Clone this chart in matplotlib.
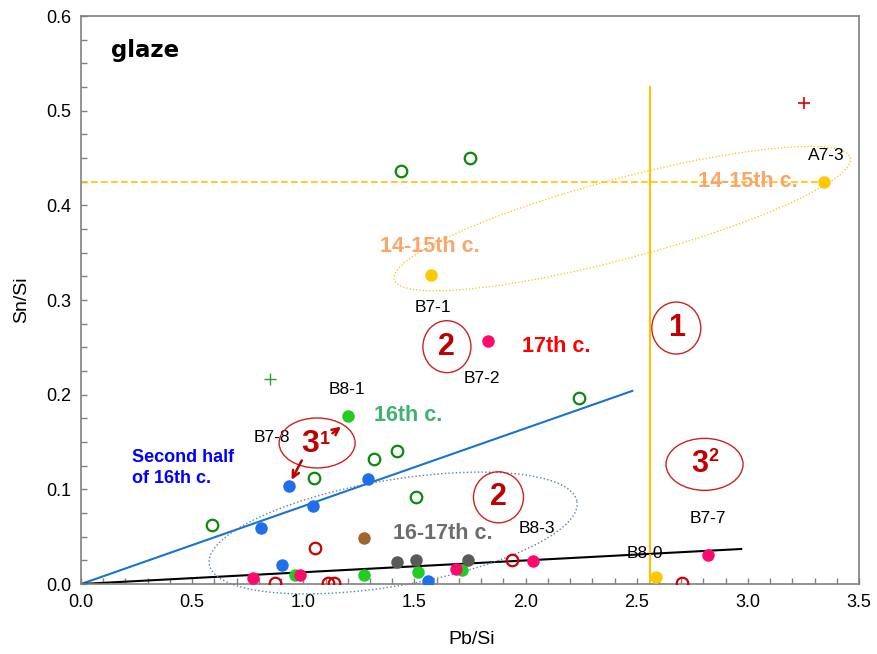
import numpy as np
import matplotlib
matplotlib.use("Agg")
import matplotlib.pyplot as plt
from matplotlib.patches import Ellipse

plt.rcParams["font.family"] = ["Liberation Sans", "DejaVu Sans"]

# ---------------- DATA ---------------- #
# Filled markers (Pb/Si, Sn/Si)
gold_x = [1.575, 3.344, 2.586]
gold_y = [0.326, 0.425, 0.0077]

magenta_x = [1.832, 2.822, 2.034, 0.773, 0.986, 1.688]
magenta_y = [0.257, 0.0306, 0.024, 0.0067, 0.0095, 0.0155]

green_x = [1.199, 0.963, 1.271, 1.515, 1.713]
green_y = [0.177, 0.0095, 0.0095, 0.0123, 0.0148]

blue_x = [0.935, 1.043, 1.293, 0.809, 0.906, 1.559]
blue_y = [0.1035, 0.0827, 0.111, 0.0595, 0.0197, 0.0032]

brown_x = [1.271]
brown_y = [0.049]

gray_x = [1.421, 1.508, 1.739]
gray_y = [0.0229, 0.0254, 0.0254]

# Open markers
open_green_x = [1.439, 1.751, 2.241, 1.421, 1.316, 1.046, 1.508, 0.588]
open_green_y = [0.4366, 0.45, 0.196, 0.1408, 0.1317, 0.1116, 0.0922, 0.0623]

open_red_x = [1.053, 0.873, 1.113, 1.136, 1.941, 2.705]
open_red_y = [0.0377, 0.0014, 0.001, 0.001, 0.0254, 0.0014]

# Crosses
plus_green_x, plus_green_y = [0.851], [0.217]
plus_red_x, plus_red_y = [3.254], [0.508]

# Trend lines
blue_line_x, blue_line_y = [0.0, 2.48], [0.0, 0.204]
black_line_x, black_line_y = [0.0, 2.97], [0.0, 0.037]
limit_x = 2.56          # vertical boundary
limit_top = 0.525
ref_level = 0.425       # level of A7-3

# Sample labels: (text, x, y)
sample_labels = [
    ("B7-1", 1.584, 0.2926),
    ("B7-2", 1.805, 0.2176),
    ("A7-3", 3.353, 0.453),
    ("B8-1", 1.197, 0.205),
    ("B7-8", 0.86, 0.155),
    ("B8-3", 2.051, 0.0588),
    ("B8-0", 2.538, 0.0327),
    ("B7-7", 2.822, 0.0697),
]

# Period labels: (text, x, y, colour)
period_labels = [
    ("14-15th c.", 1.571, 0.357, "#F9A66C"),
    ("14-15th c.", 3.002, 0.4257, "#F9A66C"),
    ("17th c.", 2.138, 0.2514, "#FF0000"),
    ("16th c.", 1.472, 0.1775, "#3CB371"),
    ("16-17th c.", 1.626, 0.0535, "#6D6D6D"),
]

# Group circles: (x, y, width, height)
group_circles = [
    (2.678, 0.2704, 0.2205, 0.0549),
    (1.646, 0.2507, 0.216, 0.0549),
    (1.878, 0.0916, 0.225, 0.0539),
    (2.805, 0.1264, 0.3465, 0.0549),
    (1.062, 0.149, 0.342, 0.0528),
]


def ellipse_curve(cx, cy, ux, uy, vx, vy, n=300):
    t = np.linspace(0, 2 * np.pi, n)
    return cx + ux * np.cos(t) + vx * np.sin(t), cy + uy * np.cos(t) + vy * np.sin(t)


# ---------------- PLOT ---------------- #
fig = plt.figure(figsize=(8.77, 6.54), dpi=100)
ax = fig.add_axes([0.0924, 0.107, 0.8871, 0.8685])

ax.set_xlim(0, 3.5)
ax.set_ylim(0, 0.6)

# lines
ax.plot(blue_line_x, blue_line_y, color="#1874CD", lw=1.5, zorder=2)
ax.plot(black_line_x, black_line_y, color="black", lw=1.5, zorder=2)
ax.plot([limit_x, limit_x], [0, limit_top], color="#FFC000", lw=1.5, zorder=2)
ax.plot([0, gold_x[1]], [ref_level, ref_level], color="#FFC000", lw=1.2,
        linestyle=(0, (4, 2)), zorder=2)

# dotted group ellipses
ex, ey = ellipse_curve(2.435, 0.386, 1.026, 0.0644, 0.0464, -0.0408)
ax.plot(ex, ey, color="#FFC000", lw=0.9, linestyle=":", zorder=2)
ex, ey = ellipse_curve(1.404, 0.0539, 0.827, 0.0332, 0.040, -0.0551)
ax.plot(ex, ey, color="#5A7DB5", lw=1.0, linestyle=":", zorder=2, clip_on=False)

# open markers
ax.plot(open_green_x, open_green_y, "o", ms=8.3, mfc="none", mec="#0A8A0A", mew=1.6, zorder=3)
ax.plot(open_red_x, open_red_y, "o", ms=8.3, mfc="none", mec="#CC0000", mew=1.6, zorder=3)
ax.plot(plus_green_x, plus_green_y, "+", ms=9, mec="#2E9E2E", mew=1.0, zorder=3)
ax.plot(plus_red_x, plus_red_y, "+", ms=9, mec="#DD0000", mew=1.2, zorder=3)

# filled markers
for xs, ys, c in [(green_x, green_y, "#22CC22"), (magenta_x, magenta_y, "#FF0A6C"),
                  (blue_x, blue_y, "#1F6FEB"), (gold_x, gold_y, "#FFC800"),
                  (brown_x, brown_y, "#A0662E"), (gray_x, gray_y, "#5A5A5A")]:
    ax.plot(xs, ys, "o", ms=9, color=c, mec="none", zorder=4)

# labels
for txt, x, y in sample_labels:
    ax.text(x, y, txt, fontsize=12.5, ha="center", va="center", color="black", zorder=5)
for txt, x, y, c in period_labels:
    ax.text(x, y, txt, fontsize=15.5, fontweight="bold", ha="center", va="center", color=c, zorder=5)
ax.text(0.228, 0.1225, "Second half\nof 16th c.", fontsize=13, fontweight="bold",
        color="#0000FF", ha="left", va="center", linespacing=1.25, zorder=5)
ax.text(0.135, 0.564, "glaze", fontsize=16.5, fontweight="bold",
        family="DejaVu Sans", ha="left", va="center", zorder=5)

# numbered group circles
dark_red = "#C00000"
for x, y, w, h in group_circles:
    ax.add_patch(Ellipse((x, y), w, h, fill=False, ec="#CC2222", lw=1.0, zorder=5))
ax.text(2.678, 0.2704, "1", fontsize=22, fontweight="bold", color=dark_red, ha="center", va="center", zorder=6)
ax.text(1.646, 0.2507, "2", fontsize=22, fontweight="bold", color=dark_red, ha="center", va="center", zorder=6)
ax.text(1.878, 0.0916, "2", fontsize=22, fontweight="bold", color=dark_red, ha="center", va="center", zorder=6)
ax.text(2.783, 0.1264, "3", fontsize=22, fontweight="bold", color=dark_red, ha="center", va="center", zorder=6)
ax.text(2.843, 0.1345, "2", fontsize=13, fontweight="bold", color=dark_red, ha="center", va="center", zorder=6)
ax.text(1.030, 0.1475, "3", fontsize=23, fontweight="bold", color=dark_red, ha="center", va="center", zorder=6)
ax.text(1.098, 0.1525, "1", fontsize=13, fontweight="bold", color=dark_red, ha="center", va="center", zorder=6)

# arrows from 3-1 group to B7-8 and B8-1
arrow = dict(arrowstyle="->", color=dark_red, lw=1.8, mutation_scale=12)
ax.annotate("", xy=(blue_x[0] + 0.006, blue_y[0] + 0.004), xytext=(0.999, 0.1331), arrowprops=arrow, zorder=6)
ax.annotate("", xy=(green_x[0] - 0.02, green_y[0] - 0.009), xytext=(1.121, 0.1574), arrowprops=arrow, zorder=6)

# axes styling
ax.set_xticks(np.arange(0, 3.51, 0.5))
ax.set_yticks(np.arange(0, 0.61, 0.1))
ax.set_xticks(np.arange(0, 3.51, 0.1), minor=True)
ax.set_yticks(np.arange(0, 0.61, 0.025), minor=True)
ax.xaxis.set_major_formatter(matplotlib.ticker.FormatStrFormatter("%.1f"))
ax.yaxis.set_major_formatter(matplotlib.ticker.FormatStrFormatter("%.1f"))
ax.tick_params(which="both", direction="in", length=4, width=1, color="#808080",
               labelsize=13, pad=7, top=False, right=False)
for s in ax.spines.values():
    s.set_color("#808080")
    s.set_linewidth(1.2)

ax.set_xlabel("Pb/Si", fontsize=14)
ax.set_ylabel("Sn/Si", fontsize=14)
ax.xaxis.set_label_coords(0.5026, -0.082)
ax.yaxis.set_label_coords(-0.066, 0.5)

fig.savefig("out.png", dpi=100)
